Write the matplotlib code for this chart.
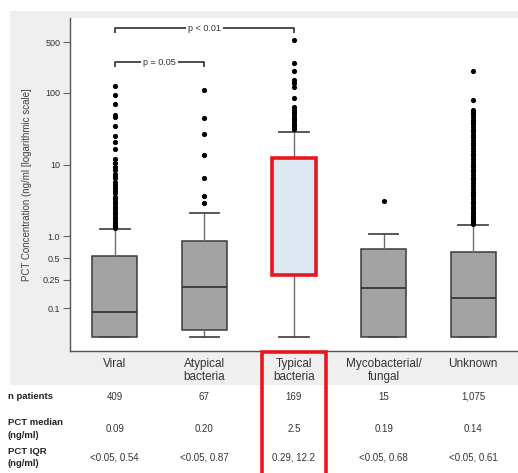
import matplotlib
matplotlib.use('Agg')
import matplotlib.pyplot as plt
from matplotlib.patches import Rectangle
from matplotlib.transforms import blended_transform_factory

plt.rcParams['font.family'] = ['Liberation Sans', 'DejaVu Sans']

# ---------------- data ----------------
categories = ['Viral', 'Atypical\nbacteria', 'Typical\nbacteria',
              'Mycobacterial/\nfungal', 'Unknown']
q1 = [0.04, 0.05, 0.29, 0.04, 0.04]
medians = [0.09, 0.20, 2.5, 0.19, 0.14]
q3 = [0.54, 0.87, 12.2, 0.68, 0.61]
whisker_low = [0.04, 0.04, 0.04, 0.04, 0.04]
whisker_high = [1.26, 2.1, 28.0, 1.07, 1.45]

fliers_viral = [123, 91, 69, 48.7, 45.3, 34.2, 24.9, 20.7, 16.2, 11.8, 10.5,
                9.3, 8.4, 7.5, 6.9, 6.4, 5.8, 5.2, 4.67, 4.3, 3.98, 3.57, 3.3,
                3.04, 2.8, 2.59, 2.4, 2.21, 2.05, 1.88, 1.75, 1.61, 1.5, 1.42,
                1.37, 1.32]
fliers_atypical = [110, 44.6, 26.3, 13.6, 6.4, 3.65, 2.9]
fliers_typical = [536, 254, 201, 149, 134, 118, 83, 63, 58, 54, 50, 46, 43,
                  40, 37, 35, 33, 31]
fliers_myco = [3.1]
fliers_unknown = [200, 78, 58, 54, 50, 46, 42, 39, 36, 33, 30, 28, 26, 24, 22,
                  20, 18.5, 17, 15.5, 14, 13, 12, 11, 10, 9.2, 8.5, 7.8, 7.1,
                  6.5, 6.0, 5.5, 5.0, 4.6, 4.2, 3.9, 3.6, 3.3, 3.0, 2.8, 2.6,
                  2.4, 2.2, 2.05, 1.9, 1.8, 1.7, 1.6, 1.55, 1.5]
fliers_all = [fliers_viral, fliers_atypical, fliers_typical, fliers_myco,
              fliers_unknown]

ytick_values = [0.1, 0.25, 0.5, 1.0, 10, 100, 500]
ytick_labels = ['0.1', '0.25', '0.5', '1.0', '10', '100', '500']

row_labels = ['n patients', 'PCT median\n(ng/ml)', 'PCT IQR\n(ng/ml)']
n_patients = ['409', '67', '169', '15', '1,075']
pct_median = ['0.09', '0.20', '2.5', '0.19', '0.14']
pct_iqr = ['<0.05, 0.54', '<0.05, 0.87', '0.29, 12.2', '<0.05, 0.68',
           '<0.05, 0.61']

comparisons = [(1, 3, 'p < 0.01'), (1, 2, 'p = 0.05')]
highlight_index = 2

# ---------------- figure ----------------
W, H = 518, 473
fig = plt.figure(figsize=(W / 100, H / 100), dpi=100)
fig.patch.set_facecolor('white')


def fy(py):
    return 1 - py / H


# light gray panel behind the chart
fig.patches.append(Rectangle((10 / W, fy(385)), 1 - 10 / W, fy(11) - fy(385),
                             transform=fig.transFigure, facecolor='#efefef',
                             edgecolor='none', zorder=-10))

ax = fig.add_axes([70 / W, fy(350.7), 1 - 70 / W, fy(18) - fy(350.7)])
ax.set_facecolor('white')

positions = list(range(1, len(categories) + 1))
stats = []
for i in range(len(categories)):
    stats.append(dict(med=medians[i], q1=q1[i], q3=q3[i],
                      whislo=whisker_low[i], whishi=whisker_high[i],
                      fliers=fliers_all[i], label=categories[i]))

res = ax.bxp(stats, positions=positions, widths=0.5, capwidths=0.33,
             patch_artist=True, showfliers=True,
             boxprops=dict(facecolor='#a3a3a3', edgecolor='#3a3a3a', linewidth=1.1),
             medianprops=dict(color='#2e2e2e', linewidth=1.2),
             whiskerprops=dict(color='#6e6e6e', linewidth=1.0),
             capprops=dict(color='#4a4a4a', linewidth=1.3),
             flierprops=dict(marker='o', markersize=2.7, markerfacecolor='black',
                             markeredgecolor='black', linestyle='none'))

hb = res['boxes'][highlight_index]
hb.set_facecolor('#dde8f2')
hb.set_edgecolor('#e8161e')
hb.set_linewidth(2.6)
hb.set_zorder(3)
res['medians'][highlight_index].set_visible(False)

ax.set_yscale('log')
ax.set_ylim(0.0259, 1085)
ax.set_xlim(0.5, len(categories) + 0.5)
ax.set_yticks(ytick_values)
ax.set_yticklabels(ytick_labels)
ax.minorticks_off()
ax.tick_params(axis='y', length=5, width=0.8, color='#666666', pad=2,
               labelsize=6.5, labelcolor='#333333')
ax.tick_params(axis='x', length=0, pad=5, labelsize=8.5, labelcolor='#333333')
ax.set_xticks(positions)
ax.set_xticklabels(categories, linespacing=1.15)

for s in ['top', 'right']:
    ax.spines[s].set_visible(False)
for s in ['left', 'bottom']:
    ax.spines[s].set_color('#555555')
    ax.spines[s].set_linewidth(1.0)

ax.set_ylabel('PCT Concentration (ng/ml [logarithmic scale]', fontsize=7,
              color='#444444', labelpad=8)

# significance brackets
bracket_levels = [(779, 678), (263, 226)]
for (a, b, txt), (ytop, ybot) in zip(comparisons, bracket_levels):
    ax.plot([a, a, b, b], [ybot, ytop, ytop, ybot], color='#2e2e2e',
            linewidth=1.2, solid_capstyle='butt', clip_on=False)
    ax.text((a + b) / 2, ytop, txt, ha='center', va='center', fontsize=6.5,
            color='#2e2e2e',
            bbox=dict(facecolor='white', edgecolor='none', pad=1.5))

# ---------------- table below ----------------
bt = blended_transform_factory(ax.transData, fig.transFigure)
row_y = [396.7, 428.9, 457.5]
row_vals = [n_patients, pct_median, pct_iqr]
for lab, py, vals in zip(row_labels, row_y, row_vals):
    fig.text(8 / W, fy(py), lab, ha='left', va='center', fontsize=6.8,
             fontweight='bold', color='#222222', linespacing=1.55)
    for pos, v in zip(positions, vals):
        fig.text(pos, fy(py), v, transform=bt, ha='center', va='center',
                 fontsize=7, color='#333333')

# red highlight frame around the typical column in the table
hx = positions[highlight_index]
fig.patches.append(Rectangle((hx - 0.355, fy(480)), 0.71, fy(352) - fy(480),
                             transform=bt, facecolor='none',
                             edgecolor='#e8161e', linewidth=2.6, zorder=5,
                             clip_on=False))

fig.savefig('out.png', dpi=100)
